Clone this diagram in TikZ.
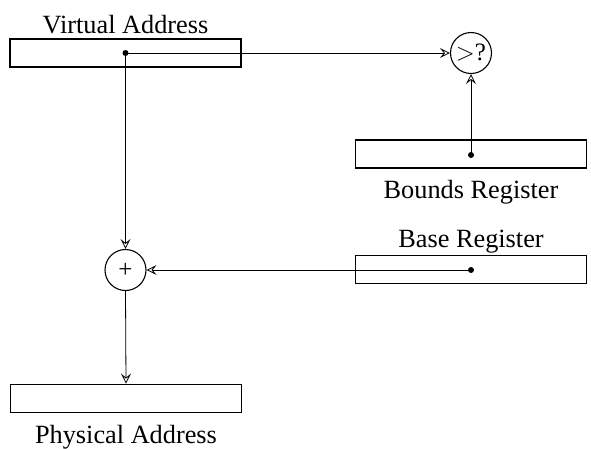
\documentclass[tikz,border=0pt]{standalone}
\usepackage{fontspec}
\setmainfont{Liberation Serif}
\usetikzlibrary{arrows.meta}
\begin{document}
\begin{tikzpicture}[x=1pt,y=-1pt,
  reg/.style={draw,line width=1.8pt,minimum width=231pt,minimum height=28pt,inner sep=0pt},
  op/.style={draw,circle,line width=1.1pt,minimum size=41pt,inner sep=0pt,font=\fontsize{25}{28}\selectfont},
  lbl/.style={anchor=base,inner sep=0pt,font=\fontsize{26.3}{30}\selectfont},
  conn/.style={line width=0.8pt,-{Stealth[open,length=10pt,width=10pt,inset=4pt]}},
  dot/.style={circle,fill,inner sep=0pt,minimum size=6pt}]
\useasboundingbox (0,0) rectangle (591,448);
\node[reg] (va) at (125.5,53) {};
\node[reg] (bounds) at (471,154) {};
\node[reg] (base) at (471,269.5) {};
\node[reg] (pa) at (126,398.5) {};
\node[lbl] (valbl) at (125.5,33) {Virtual Address};
\node[lbl] (bndlbl) at (471,198) {Bounds Register};
\node[lbl] (baslbl) at (471,247) {Base Register};
\node[lbl] (palbl) at (126,443) {Physical Address};
\node[op] (cmp) at (471,53) {$>$?};
\node[op] (add) at (125.5,270) {+};
\node[dot] (d1) at (125.5,53) {};
\node[dot] (d2) at (471,155) {};
\node[dot] (d3) at (471,270) {};
\draw[conn] (d1.center) -- (cmp.west);
\draw[conn] (d2.center) -- (cmp.south);
\draw[conn] (d1.center) -- (add.north);
\draw[conn] (d3.center) -- (add.east);
\draw[conn] (add.south) -- (pa.north);
\end{tikzpicture}
\end{document}
